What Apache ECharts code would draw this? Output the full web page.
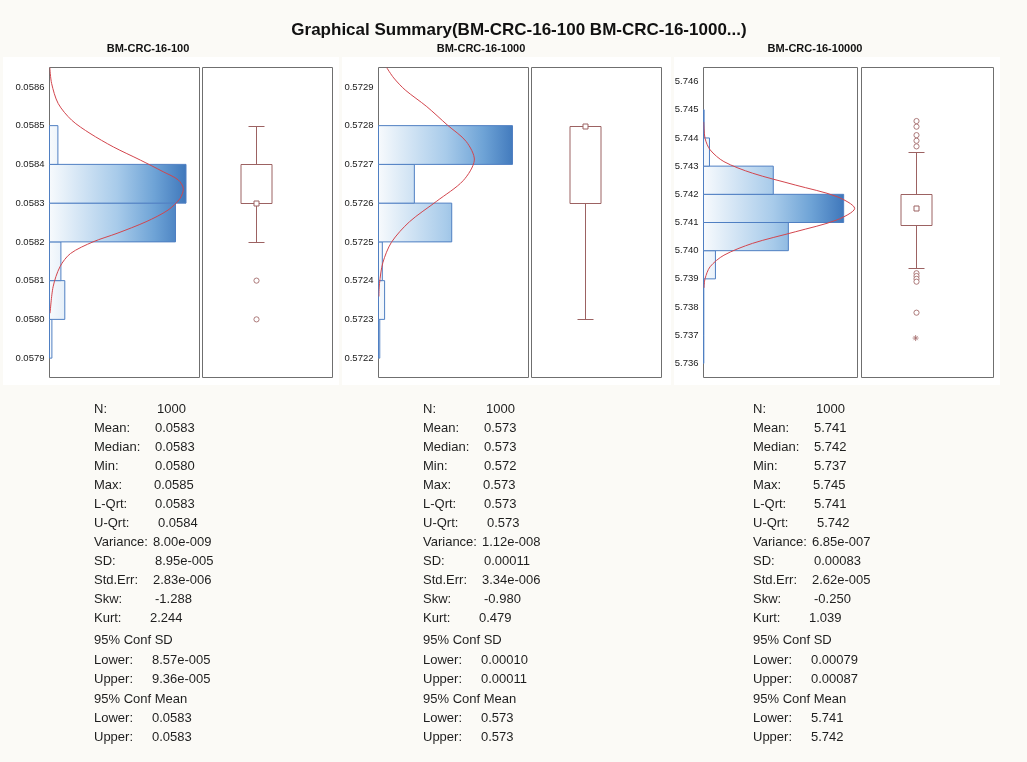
<!DOCTYPE html>
<html>
<head>
<meta charset="utf-8">
<script src="https://cdn.jsdelivr.net/npm/echarts@6/dist/echarts.min.js"></script>
<style>
  html, body { margin: 0; padding: 0; background: #fbfaf6; }
  #main { width: 1027px; height: 762px; }
</style>
</head>
<body>
<div id="main"></div>
<script>
// ---------- data ----------
const chartTitle = 'Graphical Summary(BM-CRC-16-100 BM-CRC-16-1000...)';
const sampleNames = ['BM-CRC-16-100', 'BM-CRC-16-1000', 'BM-CRC-16-10000'];

// histogram bins: [lower edge, upper edge, count]
const binsA = [[0.0579, 0.0580, 8], [0.0580, 0.0581, 51], [0.0581, 0.0582, 38],
               [0.0582, 0.0583, 420], [0.0583, 0.0584, 455], [0.0584, 0.0585, 28]];
const binsB = [[0.5722, 0.5723, 5], [0.5723, 0.5724, 24], [0.5724, 0.5725, 15],
               [0.5725, 0.5726, 288], [0.5726, 0.5727, 141], [0.5727, 0.5728, 527]];
const binsC = [[5.736, 5.737, 1], [5.737, 5.738, 1], [5.738, 5.739, 1], [5.739, 5.740, 38],
               [5.740, 5.741, 270], [5.741, 5.742, 446], [5.742, 5.743, 222],
               [5.743, 5.744, 19], [5.744, 5.745, 2]];

// fitted normal curve: [count, value]
const curveA = [[1, 0.05865], [7, 0.058609], [29, 0.058557], [74, 0.058514], [135, 0.05848],
                [213, 0.058445], [303, 0.058411], [379, 0.058381], [429, 0.05836], [446, 0.058338],
                [435, 0.058312], [395, 0.058282], [322, 0.058252], [225, 0.058222], [145, 0.0582],
                [70, 0.05817], [35, 0.058136], [12, 0.058084], [2, 0.058016]];
const curveB = [[32, 0.57295], [60, 0.572923], [105, 0.572892], [190, 0.572849], [270, 0.572802],
                [345, 0.572759], [377, 0.572711], [333, 0.572658], [229, 0.572605], [122, 0.572552],
                [51, 0.572499], [17, 0.572446], [4, 0.572393], [1.5, 0.572359]];
const curveC = [[0.5, 5.74457], [5, 5.74399], [21, 5.74358], [65, 5.74316], [156, 5.74275],
                [292, 5.74233], [424, 5.74192], [481, 5.7415], [424, 5.74109], [292, 5.74067],
                [156, 5.74026], [65, 5.73984], [21, 5.73943], [5, 5.73901], [1.5, 5.73868]];

// value-axis ranges and tick labels
const rangeA = [0.05785, 0.05865];
const rangeB = [0.57215, 0.57295];
const rangeC = [5.7355, 5.7465];
const ticksA = [0.0579, 0.0580, 0.0581, 0.0582, 0.0583, 0.0584, 0.0585, 0.0586];
const ticksB = [0.5722, 0.5723, 0.5724, 0.5725, 0.5726, 0.5727, 0.5728, 0.5729];
const ticksC = [5.736, 5.737, 5.738, 5.739, 5.740, 5.741, 5.742, 5.743, 5.744, 5.745, 5.746];
const tickDigits = [4, 4, 3];
const countMax = [500, 590, 490];

// box plots: [low whisker, Q1, median, Q3, high whisker]
const boxA = [0.0582, 0.0583, 0.0583, 0.0584, 0.0585];
const boxB = [0.5723, 0.5726, 0.5728, 0.5728, 0.5728];
const boxC = [5.7394, 5.7409, 5.7415, 5.7420, 5.7435];
const outliersA = [0.0581, 0.0580];
const outliersB = [];
const outliersC = [5.7446, 5.7444, 5.7441, 5.7439, 5.7437, 5.7392, 5.7391, 5.7390, 5.7389, 5.7378];
const extremesA = [];
const extremesB = [];
const extremesC = [5.7369];

// descriptive statistics
const statLabels = ['N:', 'Mean:', 'Median:', 'Min:', 'Max:', 'L-Qrt:', 'U-Qrt:', 'Variance:', 'SD:',
                    'Std.Err:', 'Skw:', 'Kurt:', '95% Conf SD', 'Lower:', 'Upper:', '95% Conf Mean',
                    'Lower:', 'Upper:'];
const statsA = ['1000', '0.0583', '0.0583', '0.0580', '0.0585', '0.0583', '0.0584', '8.00e-009',
                '8.95e-005', '2.83e-006', '-1.288', '2.244', '', '8.57e-005', '9.36e-005', '',
                '0.0583', '0.0583'];
const statsB = ['1000', '0.573', '0.573', '0.572', '0.573', '0.573', '0.573', '1.12e-008',
                '0.00011', '3.34e-006', '-0.980', '0.479', '', '0.00010', '0.00011', '',
                '0.573', '0.573'];
const statsC = ['1000', '5.741', '5.742', '5.737', '5.745', '5.741', '5.742', '6.85e-007',
                '0.00083', '2.62e-005', '-0.250', '1.039', '', '0.00079', '0.00087', '',
                '5.741', '5.742'];

// ---------- layout ----------
const FONT = "'Liberation Sans', Arial, Helvetica, sans-serif";
const histGrids = [
  { left: 49.5, width: 150 },
  { left: 378.5, width: 150 },
  { left: 703.5, width: 154 }
];
const boxGrids = [
  { left: 202.5, width: 130 },
  { left: 531.5, width: 130 },
  { left: 861.5, width: 132 }
];
const gridTop = 67.5, gridHeight = 310;
const panelBlocks = [[3, 57, 336, 328], [342, 57, 329, 328], [674, 57, 326, 328]];
const subtitleX = [148, 481, 815];
const statsX = [94, 423, 753];
const valueOffset = [63, 61, 61, 61, 60, 61, 64, 59, 61, 59, 61, 56, 0, 58, 58, 0, 58, 58];
const rowY = [409, 428.3, 447.3, 466.2, 485.2, 504.3, 523.3, 542.3, 561.6, 580.7, 599.4, 618.4,
              640.7, 660, 679.3, 699, 718.3, 737.6];
const boxPos = 0.41;

const BOX_COLOR = '#9c6262';
const CURVE_COLOR = '#d2454d';
const BAR_STROKE = '#4f7fc2';
const gradStops = [
  { offset: 0, color: '#f7fafd' },
  { offset: 0.45, color: '#a8cbea' },
  { offset: 0.7, color: '#6ea3d6' },
  { offset: 1, color: '#2b65b0' }
];

const bins = [binsA, binsB, binsC];
const curves = [curveA, curveB, curveC];
const ranges = [rangeA, rangeB, rangeC];
const ticks = [ticksA, ticksB, ticksC];
const boxes = [boxA, boxB, boxC];
const outliers = [outliersA, outliersB, outliersC];
const extremes = [extremesA, extremesB, extremesC];
const stats = [statsA, statsB, statsC];

// one horizontal histogram bar spanning [lower edge, upper edge]
function binItem(params, api) {
  const cs = params.coordSys;
  const a = api.coord([0, api.value(1)]);
  const b = api.coord([api.value(2), api.value(0)]);
  return {
    type: 'rect',
    shape: { x: a[0], y: a[1], width: b[0] - a[0], height: b[1] - a[1] },
    style: {
      fill: new echarts.graphic.LinearGradient(cs.x, 0, cs.x + cs.width, 0, gradStops, true),
      stroke: BAR_STROKE,
      lineWidth: 1
    }
  };
}

// density curve drawn once as a smoothed polyline, clipped to the plot
function curveRenderer(points) {
  return function (params, api) {
    if (params.dataIndex !== 0) return null;
    const cs = params.coordSys;
    return {
      type: 'polyline',
      shape: { points: points.map(p => api.coord(p)), smooth: 0.3 },
      style: { stroke: CURVE_COLOR, lineWidth: 1, fill: null },
      clipPath: { type: 'rect', shape: { x: cs.x, y: cs.y, width: cs.width, height: cs.height } }
    };
  };
}

// box with whiskers, caps and a small square at the median
function boxItem(params, api) {
  const x = api.value(0);
  const py = v => Math.round(api.coord([x, v])[1]) + 0.5;
  const cx = Math.round(api.coord([x, api.value(1)])[0]) + 0.5;
  const lw = py(api.value(1)), q1 = py(api.value(2)), md = py(api.value(3));
  const q3 = py(api.value(4)), hw = py(api.value(5));
  const hb = 15.5, hc = 8, hs = 2.5;
  const st = { stroke: BOX_COLOR, lineWidth: 1, fill: null };
  return {
    type: 'group',
    children: [
      { type: 'line', shape: { x1: cx, y1: hw, x2: cx, y2: q3 }, style: st },
      { type: 'line', shape: { x1: cx, y1: q1, x2: cx, y2: lw }, style: st },
      { type: 'line', shape: { x1: cx - hc, y1: hw, x2: cx + hc, y2: hw }, style: st },
      { type: 'line', shape: { x1: cx - hc, y1: lw, x2: cx + hc, y2: lw }, style: st },
      { type: 'rect', shape: { x: cx - hb, y: q3, width: 2 * hb, height: q1 - q3 },
        style: { stroke: BOX_COLOR, lineWidth: 1, fill: '#ffffff' } },
      { type: 'rect', shape: { x: cx - hs, y: md - hs, width: 2 * hs, height: 2 * hs },
        style: { stroke: BOX_COLOR, lineWidth: 1, fill: '#ffffff' } }
    ]
  };
}

// single outlier ring
function ringItem(params, api) {
  const p = api.coord([api.value(0), api.value(1)]);
  return {
    type: 'circle',
    shape: { cx: Math.round(p[0]) + 0.5, cy: p[1], r: 2.6 },
    style: { stroke: '#a46c6c', lineWidth: 0.9, fill: '#ffffff' }
  };
}

const grids = [], xAxes = [], yAxes = [], series = [], graphics = [];

panelBlocks.forEach(b => {
  graphics.push({ type: 'rect', z: -10, shape: { x: b[0], y: b[1], width: b[2], height: b[3] },
                  style: { fill: '#ffffff' } });
});

graphics.push({ type: 'text', x: 519, y: 30,
  style: { text: chartTitle, font: 'bold 17px ' + FONT, fill: '#111', align: 'center', verticalAlign: 'middle' } });

for (let i = 0; i < 3; i++) {
  const hg = 2 * i, bg = 2 * i + 1;
  grids.push({ left: histGrids[i].left, width: histGrids[i].width, top: gridTop, height: gridHeight,
               show: true, borderColor: '#6f6f6f', borderWidth: 1, backgroundColor: '#ffffff' });
  grids.push({ left: boxGrids[i].left, width: boxGrids[i].width, top: gridTop, height: gridHeight,
               show: true, borderColor: '#6f6f6f', borderWidth: 1, backgroundColor: '#ffffff' });

  xAxes.push({ gridIndex: hg, type: 'value', min: 0, max: countMax[i], show: false });
  xAxes.push({ gridIndex: bg, type: 'value', min: 0, max: 1, show: false });

  const digits = tickDigits[i];
  yAxes.push({
    gridIndex: hg, type: 'value', min: ranges[i][0], max: ranges[i][1],
    axisLine: { show: false }, axisTick: { show: false }, splitLine: { show: false },
    axisLabel: {
      customValues: ticks[i], margin: 5, color: '#1a1a1a', fontSize: 9.5, fontFamily: FONT,
      formatter: v => Number(v).toFixed(digits)
    }
  });
  yAxes.push({ gridIndex: bg, type: 'value', min: ranges[i][0], max: ranges[i][1], show: false });

  series.push({
    type: 'custom', xAxisIndex: hg, yAxisIndex: hg, renderItem: binItem,
    encode: { x: 2, y: [0, 1] }, data: bins[i], silent: true, z: 2
  });
  series.push({
    type: 'custom', xAxisIndex: hg, yAxisIndex: hg, renderItem: curveRenderer(curves[i]),
    encode: { x: 0, y: 1 }, data: curves[i], silent: true, z: 3
  });
  series.push({
    type: 'custom', xAxisIndex: bg, yAxisIndex: bg, renderItem: boxItem,
    encode: { x: 0, y: [1, 2, 3, 4, 5] }, data: [[boxPos].concat(boxes[i])], silent: true, z: 2
  });
  series.push({
    type: 'custom', xAxisIndex: bg, yAxisIndex: bg, renderItem: ringItem,
    encode: { x: 0, y: 1 }, data: outliers[i].map(v => [boxPos, v]), silent: true, z: 3
  });
  series.push({
    type: 'scatter', xAxisIndex: bg, yAxisIndex: bg,
    symbol: 'path://M5,0L5,10M0,5L10,5M1.5,1.5L8.5,8.5M8.5,1.5L1.5,8.5', symbolSize: 6,
    data: extremes[i].map(v => [boxPos, v]), silent: true, z: 3,
    itemStyle: { color: 'none', borderColor: '#a46c6c', borderWidth: 1 }
  });

  graphics.push({ type: 'text', x: subtitleX[i], y: 49,
    style: { text: sampleNames[i], font: 'bold 11px ' + FONT, fill: '#111', align: 'center', verticalAlign: 'middle' } });

  statLabels.forEach((lab, r) => {
    graphics.push({ type: 'text', x: statsX[i], y: rowY[r],
      style: { text: lab, font: '13px ' + FONT, fill: '#1e1e1e', verticalAlign: 'middle' } });
    if (stats[i][r]) {
      graphics.push({ type: 'text', x: statsX[i] + valueOffset[r], y: rowY[r],
        style: { text: stats[i][r], font: '13px ' + FONT, fill: '#1e1e1e', verticalAlign: 'middle' } });
    }
  });
}

const chart = echarts.init(document.getElementById('main'), null, { renderer: 'canvas' });
chart.setOption({
  backgroundColor: '#fbfaf6',
  animation: false,
  grid: grids,
  xAxis: xAxes,
  yAxis: yAxes,
  series: series,
  graphic: graphics
});
</script>
</body>
</html>
